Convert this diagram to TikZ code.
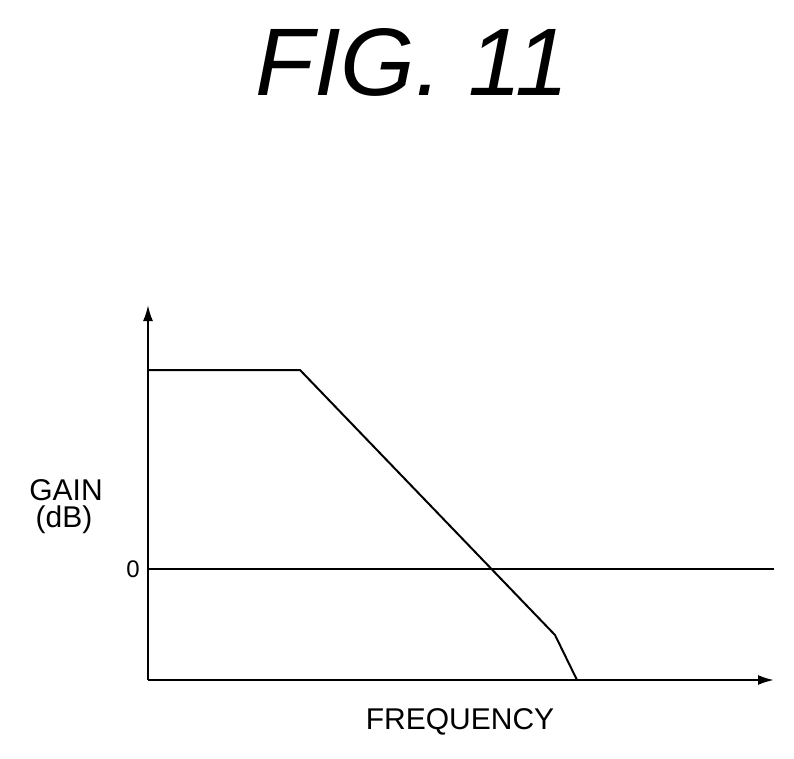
\documentclass[tikz,border=0pt]{standalone}
\usepackage{fontspec}
\setmainfont{Liberation Sans}
\usetikzlibrary{positioning,arrows.meta}
\tikzset{axis/.style={line width=2pt, -{Latex[length=16pt,width=10pt]}},
         curve/.style={line width=2pt}}
\begin{document}
\begin{tikzpicture}[x=1pt,y=1pt]
\useasboundingbox (0,0) rectangle (794,-759);
\node (title) at (412,-62) {\fontsize{96}{100}\selectfont\itshape FIG. 11};
\coordinate (o) at (148,-680);
\coordinate (ytop) at (148,-305);
\coordinate (xend) at (774,-680);
\coordinate (z0) at (148,-569);
\coordinate (z1) at (774,-569);
\coordinate (p1) at (148,-370);
\coordinate (p2) at (300,-370);
\coordinate (p3) at (555,-635);
\coordinate (p4) at (577,-680);
\draw[axis] (o) -- (ytop);
\draw[axis] (o) -- (xend);
\draw[curve] (z0) -- (z1);
\draw[curve] (p1) -- (p2) -- (p3) -- (p4);
\node (gain) at (66,-490) {\fontsize{30}{32}\selectfont GAIN};
\node (db) at (64,-520) {\fontsize{30}{32}\selectfont (dB)};
\node (zero) at (133,-569) {\fontsize{24}{26}\selectfont 0};
\node (freq) at (460,-722) {\fontsize{30}{32}\selectfont FREQUENCY};
\end{tikzpicture}
\end{document}
